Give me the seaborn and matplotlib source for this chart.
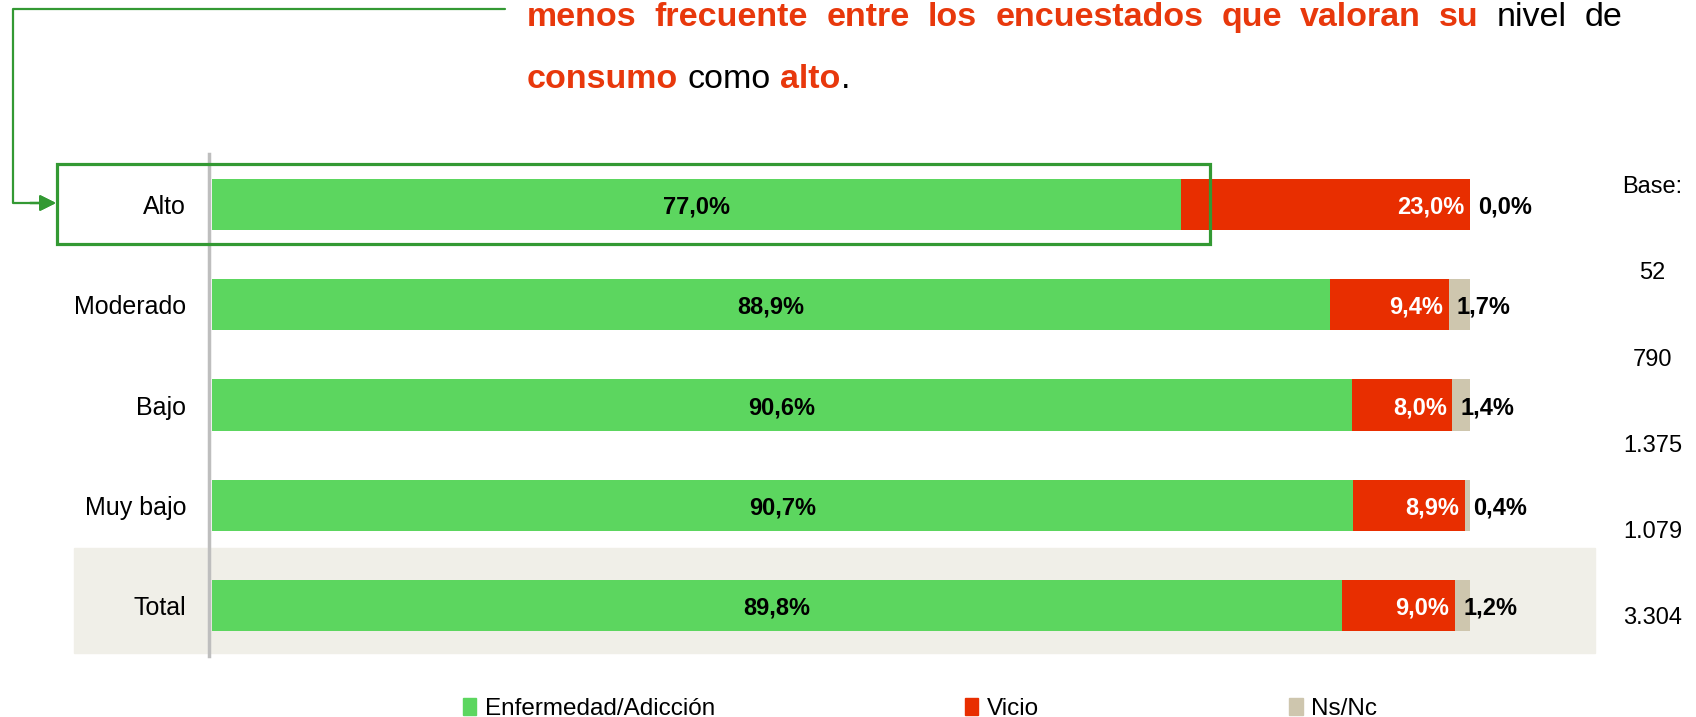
import pandas as pd
import seaborn as sns
import matplotlib.pyplot as plt
from matplotlib.patches import Patch, Rectangle
from matplotlib.lines import Line2D

# datos
categorias = ["Alto", "Moderado", "Bajo", "Muy bajo", "Total"]
enfermedad = [77.0, 88.9, 90.6, 90.7, 89.8]
vicio = [23.0, 9.4, 8.0, 8.9, 9.0]
nsnc = [0.0, 1.7, 1.4, 0.4, 1.2]
bases = ["Base:", "52", "790", "1.375", "1.079", "3.304"]
series = ["Enfermedad/Adicción", "Vicio", "Ns/Nc"]

verde, rojo, beige = "#5CD65F", "#E82E00", "#CEC6AE"
rojo_txt = "#E8380C"
verde_caja = "#339933"

df = pd.DataFrame({"nivel": categorias, "enf": enfermedad, "vic": vicio, "ns": nsnc})
df["hasta_vicio"] = df.enf + df.vic
df["hasta_ns"] = df.hasta_vicio + df.ns

sns.set_theme(style="white")
plt.rcParams["font.family"] = ["Liberation Sans", "DejaVu Sans"]
plt.rcParams["text.color"] = "black"

W, H = 1696, 717
fx = lambda px: px / W
fy = lambda py: 1 - py / H

fig = plt.figure(figsize=(W / 100, H / 100), dpi=100)
ax = fig.add_axes([fx(212), fy(656), 1258 / W, 502 / H])
ax.patch.set_alpha(0)

# barras apiladas: se dibuja el acumulado de atras hacia delante
for col, c in [("hasta_ns", beige), ("hasta_vicio", rojo), ("enf", verde)]:
    sns.barplot(data=df, x=col, y="nivel", orient="h", color=c, saturation=1,
                width=0.51, errorbar=None, linewidth=0, ax=ax)

ax.set_xlim(0, 100)
ax.set_ylim(4.5, -0.5)
ax.set_xlabel("")
ax.set_ylabel("")
ax.set_xticks([])
ax.tick_params(axis="y", length=0, pad=16, labelsize=18, labelcolor="black")
for s in ["top", "right", "bottom"]:
    ax.spines[s].set_visible(False)
ax.spines["left"].set_color("#BEBEBE")
ax.spines["left"].set_linewidth(2.5)
ax.spines["left"].set_position(("outward", 2.5))

# fondo de la fila Total
ax.add_patch(Rectangle((-10.97, 3.424), 120.9, 1.05, color="#F0EFE8", zorder=0, clip_on=False))
# caja verde de la fila Alto
ax.add_patch(Rectangle((-12.3, -0.40), 91.6, 0.796, fill=False, edgecolor=verde_caja,
                       lw=2.3, clip_on=False, zorder=5))

fmt = lambda v: f"{v:.1f}".replace(".", ",") + "%"
for i, row in df.iterrows():
    ax.text(row.enf / 2, i, fmt(row.enf), ha="center", va="center_baseline",
            fontsize=17, fontweight="bold", color="black")
    ax.annotate(fmt(row.vic), (row.hasta_vicio, i), xytext=(-4, 0), textcoords="offset points",
                ha="right", va="center_baseline", fontsize=17, fontweight="bold", color="white")
    ax.annotate(fmt(row.ns), (row.hasta_vicio, i), xytext=(6, 0), textcoords="offset points",
                ha="left", va="center_baseline", fontsize=17, fontweight="bold", color="black")

# columna de bases
for k, b in enumerate(bases):
    ax.text(114.5, -0.17 + k * 0.859, b, ha="center", va="center", fontsize=17, color="black")

# conector con flecha
fig.add_artist(Line2D([fx(505), fx(13), fx(13), fx(40)], [fy(9), fy(9), fy(203), fy(203)],
                      transform=fig.transFigure, color=verde_caja, lw=1.6))
fig.add_artist(plt.annotate("", xy=(fx(56), fy(203)), xytext=(fx(30), fy(203)),
                            xycoords="figure fraction", textcoords="figure fraction",
                            arrowprops=dict(arrowstyle="-|>", color=verde_caja, lw=1.6,
                                            mutation_scale=24, shrinkA=0, shrinkB=0)))

# texto superior (justificado)
renderer = fig.canvas.get_renderer()
tsize = 24.5


def palabra(x, y, txt, negrita):
    return fig.text(fx(x), fy(y), txt, fontsize=tsize, va="baseline", ha="left",
                    fontweight="bold" if negrita else "normal",
                    color=rojo_txt if negrita else "black")


linea1 = [("menos", True), ("frecuente", True), ("entre", True), ("los", True),
          ("encuestados", True), ("que", True), ("valoran", True), ("su", True),
          ("nivel", False), ("de", False)]
objs = [palabra(0, 26, t, b) for t, b in linea1]
anchos = [o.get_window_extent(renderer).width for o in objs]
hueco = (1623 - 527 - sum(anchos)) / (len(objs) - 1)
x = 527
for o, w in zip(objs, anchos):
    o.set_x(fx(x))
    x += w + hueco

linea2 = [("consumo", True, 1), ("como", False, 1), ("alto", True, 0), (".", False, 0)]
espacio = tsize * 100 / 72 * 0.278
x = 527
for t, b, sp in linea2:
    o = palabra(x, 88, t, b)
    x += o.get_window_extent(renderer).width + espacio * sp

handles = [Patch(color=c) for c in (verde, rojo, beige)]
fig.legend(handles, series, ncol=3, loc="center", bbox_to_anchor=(fx(920), fy(709)),
           frameon=False, fontsize=17.5, handlelength=0.55, handleheight=0.65,
           handletextpad=0.35, columnspacing=10.3, borderpad=0, labelcolor="black")

fig.savefig("out.png", dpi=100)
